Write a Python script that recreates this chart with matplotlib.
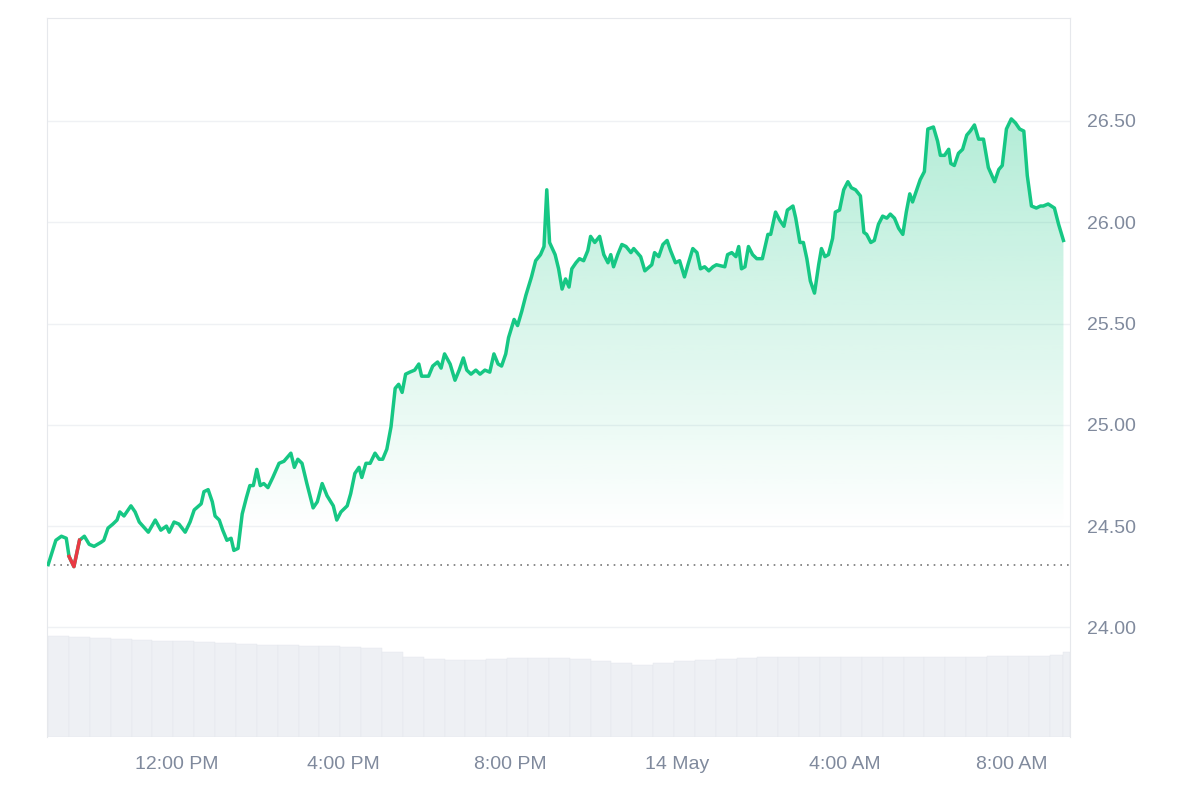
import numpy as np
import matplotlib
matplotlib.use("Agg")
import matplotlib.pyplot as plt
from matplotlib.patches import Polygon

plt.rcParams["font.family"] = "Liberation Sans"

# minutes since 08:55 (13 May)
minutes = [0,11,19,26,30,37,45,52,59,66,76,80,86,93,99,103,109,119,125,131,144,154,162,170,174,181,188,197,204,210,220,224,230,236,240,246,251,257,263,267,273,279,285,290,295,300,305,310,316,323,332,339,349,354,359,365,372,381,387,394,401,410,415,421,430,435,441,447,451,457,463,470,476,481,487,493,499,504,509,514,520,527,533,537,547,553,560,565,570,578,585,591,597,602,608,615,621,628,635,641,647,652,658,662,670,675,681,687,695,701,708,713,717,721,729,734,739,744,749,753,759,764,770,776,780,786,793,799,805,809,813,819,825,831,838,842,852,858,868,872,878,884,890,895,902,908,915,920,927,933,938,944,950,956,961,973,977,983,989,993,997,1002,1007,1013,1019,1027,1035,1039,1046,1052,1058,1063,1071,1075,1081,1086,1091,1096,1102,1108,1112,1117,1122,1128,1132,1138,1144,1150,1155,1161,1168,1173,1177,1183,1188,1194,1200,1206,1211,1217,1223,1229,1234,1239,1243,1249,1254,1260,1265,1273,1279,1283,1289,1295,1298,1303,1309,1315,1321,1326,1332,1338,1345,1352,1361,1367,1372,1378,1385,1391,1397,1403,1408,1414,1421,1427,1431,1438,1447,1453,1460]
prices = [24.31,24.43,24.45,24.44,24.35,24.30,24.43,24.45,24.41,24.40,24.42,24.43,24.49,24.51,24.53,24.57,24.55,24.60,24.57,24.52,24.47,24.53,24.48,24.50,24.47,24.52,24.51,24.47,24.52,24.58,24.61,24.67,24.68,24.62,24.55,24.53,24.48,24.43,24.44,24.38,24.39,24.56,24.64,24.70,24.70,24.78,24.70,24.71,24.69,24.74,24.81,24.82,24.86,24.79,24.83,24.81,24.71,24.59,24.62,24.71,24.65,24.60,24.53,24.57,24.60,24.66,24.76,24.79,24.74,24.81,24.81,24.86,24.83,24.83,24.88,24.99,25.18,25.20,25.16,25.25,25.26,25.27,25.30,25.24,25.24,25.29,25.31,25.28,25.35,25.30,25.22,25.27,25.33,25.27,25.25,25.27,25.25,25.27,25.26,25.35,25.30,25.29,25.35,25.43,25.52,25.49,25.56,25.64,25.73,25.81,25.84,25.88,26.16,25.90,25.84,25.77,25.67,25.72,25.68,25.77,25.80,25.82,25.81,25.86,25.93,25.90,25.93,25.84,25.80,25.84,25.78,25.84,25.89,25.88,25.85,25.87,25.83,25.76,25.79,25.85,25.83,25.89,25.91,25.86,25.80,25.81,25.73,25.79,25.87,25.85,25.77,25.78,25.76,25.78,25.79,25.78,25.84,25.85,25.83,25.88,25.77,25.78,25.88,25.84,25.82,25.82,25.94,25.94,26.05,26.01,25.98,26.06,26.08,26.02,25.90,25.90,25.82,25.71,25.65,25.79,25.87,25.83,25.84,25.92,26.05,26.06,26.16,26.20,26.17,26.16,26.13,25.95,25.94,25.90,25.91,25.99,26.03,26.02,26.04,26.02,25.97,25.94,26.05,26.14,26.10,26.16,26.21,26.25,26.46,26.47,26.40,26.33,26.33,26.36,26.29,26.28,26.34,26.36,26.43,26.45,26.48,26.41,26.41,26.27,26.20,26.26,26.28,26.46,26.51,26.49,26.46,26.45,26.23,26.08,26.07,26.08,26.08,26.09,26.07,25.99,25.91]

# volume (relative units), one value per 30 minutes
volume = [101,100,99,98,97,96,96,95,94,93,92,92,91,91,90,89,85,80,78,77,77,78,79,79,79,78,76,74,72,74,76,77,78,79,80,80,80,80,80,80,80,80,80,80,80,81,81,81,82,85]

tick_minutes = [185, 425, 665, 905, 1145, 1385]
tick_labels = ["12:00 PM", "4:00 PM", "8:00 PM", "14 May", "4:00 AM", "8:00 AM"]
y_ticks = [24.00, 24.50, 25.00, 25.50, 26.00, 26.50]

green = "#16c784"
red = "#ea3943"
grey_text = "#808a9d"
base = prices[0]

fig = plt.figure(figsize=(12, 8), dpi=100)
ax = fig.add_axes([0.039, 0.079, 0.853, 0.899])
ymin, ymax = 23.46, 27.01
xmin, xmax = -2, 1470
ax.set_xlim(xmin, xmax)
ax.set_ylim(ymin, ymax)

# volume bars
axv = ax.twinx()
axv.set_zorder(0)
ax.set_zorder(1)
ax.patch.set_visible(False)
vx = np.arange(len(volume)) * 30
vw = np.minimum(30, minutes[-1] - vx)
axv.bar(vx, volume, width=vw, align="edge", color="#eef0f4", edgecolor="#e3e6ec", linewidth=0.3)
axv.set_ylim(0, max(volume) * 7.1)
axv.set_xlim(xmin, xmax)
axv.set_yticks([])
for s in axv.spines.values():
    s.set_visible(False)

# gradient fill
x = np.array(minutes, dtype=float)
y = np.array(prices)
grad = np.zeros((256, 1, 4))
grad[:, 0, 0] = 0x16 / 255
grad[:, 0, 1] = 0xc7 / 255
grad[:, 0, 2] = 0x84 / 255
grad[:, 0, 3] = np.linspace(0.0, 0.33, 256)
fill_bottom = 24.48
im = ax.imshow(grad, extent=[x[0], x[-1], fill_bottom, 26.55], origin="lower", aspect="auto", zorder=1)
poly = Polygon(np.vstack([np.column_stack([x, y]), [[x[-1], fill_bottom], [x[0], fill_bottom]]]),
               closed=True, facecolor="none", edgecolor="none")
ax.add_patch(poly)
im.set_clip_path(poly)

# line, red portion below base
ax.plot(x, y, color=green, lw=2.5, zorder=3, solid_joinstyle="round")
below = y < base
for i in np.where(below)[0]:
    lo, hi = max(i - 1, 0), min(i + 1, len(x) - 1)
    segx, segy = x[lo:hi + 1], y[lo:hi + 1]
    ax.plot(segx, segy, color=red, lw=2.5, zorder=4)
    ax.set_ylim(ymin, ymax)
ax.axhline(base, color="#777", lw=1.2, ls=(0, (1, 3)), zorder=2)

# grid and axes
for t in y_ticks:
    ax.axhline(t, color="#eff1f4", lw=1, zorder=0)
ax.yaxis.tick_right()
ax.set_yticks(y_ticks)
ax.set_yticklabels([f"{t:.2f}" for t in y_ticks])
ax.set_xticks(tick_minutes)
ax.set_xticklabels(tick_labels)
ax.tick_params(length=0, labelsize=14, colors=grey_text, pad=12)
ax.tick_params(axis="x", pad=14)
for k in ["left", "top", "right"]:
    ax.spines[k].set_color("#e6e8ec")
ax.spines["bottom"].set_visible(False)

fig.savefig("out.png", dpi=100)
